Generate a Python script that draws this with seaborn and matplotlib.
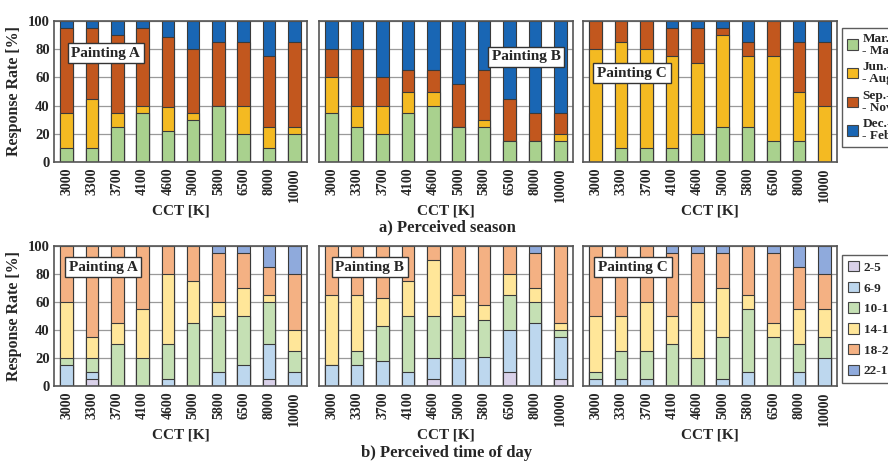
import numpy as np
import pandas as pd
import matplotlib
matplotlib.use("Agg")
import matplotlib.pyplot as plt
import seaborn as sns
from matplotlib.patches import Patch

cct = ["3000", "3300", "3700", "4100", "4600", "5000", "5800", "6500", "8000", "10000"]
paintings = ["Painting A", "Painting B", "Painting C"]

# perceived season, % per CCT (bottom -> top)
season_labels = ["Mar.-\n- May", "Jun.-\n- Aug.", "Sep.-\n- Nov.", "Dec.-\n- Feb."]
season_colors = ["#A9D18E", "#F4BA22", "#C2571E", "#1966B4"]
season_a = {
    "Mar.-May": [10, 10, 25, 35, 22, 30, 40, 20, 10, 20],
    "Jun.-Aug.": [25, 35, 10, 5, 17, 5, 0, 20, 15, 5],
    "Sep.-Nov.": [60, 50, 55, 55, 50, 45, 45, 45, 50, 60],
    "Dec.-Feb.": [5, 5, 10, 5, 11, 20, 15, 15, 25, 15],
}
season_b = {
    "Mar.-May": [35, 25, 20, 35, 40, 25, 25, 15, 15, 15],
    "Jun.-Aug.": [25, 15, 20, 15, 10, 0, 5, 0, 0, 5],
    "Sep.-Nov.": [20, 40, 20, 15, 15, 30, 35, 30, 20, 15],
    "Dec.-Feb.": [20, 20, 40, 35, 35, 45, 35, 55, 65, 65],
}
season_c = {
    "Mar.-May": [0, 10, 10, 10, 20, 25, 25, 15, 15, 0],
    "Jun.-Aug.": [80, 75, 70, 65, 50, 65, 50, 60, 35, 40],
    "Sep.-Nov.": [20, 15, 20, 20, 25, 5, 10, 25, 35, 45],
    "Dec.-Feb.": [0, 0, 0, 5, 5, 5, 15, 0, 15, 15],
}

# perceived time of day, % per CCT (bottom -> top)
time_labels = ["2-5", "6-9", "10-13", "14-17", "18-21", "22-1"]
time_colors = ["#D9D1E9", "#BDD7EE", "#C5E0B4", "#FFE699", "#F4B183", "#8FAADC"]
time_a = {
    "2-5": [0, 5, 0, 0, 0, 0, 0, 0, 5, 0],
    "6-9": [15, 5, 0, 0, 5, 0, 10, 15, 25, 10],
    "10-13": [5, 10, 30, 20, 25, 45, 40, 35, 30, 15],
    "14-17": [40, 15, 15, 35, 50, 30, 10, 20, 5, 15],
    "18-21": [40, 65, 55, 45, 20, 25, 35, 25, 20, 40],
    "22-1": [0, 0, 0, 0, 0, 0, 5, 5, 15, 20],
}
time_b = {
    "2-5": [0, 0, 0, 0, 5, 0, 0, 10, 0, 5],
    "6-9": [15, 15, 18, 10, 15, 20, 21, 30, 45, 30],
    "10-13": [0, 10, 25, 40, 30, 30, 26, 25, 15, 5],
    "14-17": [50, 40, 20, 25, 40, 15, 11, 15, 10, 5],
    "18-21": [35, 35, 37, 25, 10, 35, 42, 20, 25, 55],
    "22-1": [0, 0, 0, 0, 0, 0, 0, 0, 5, 0],
}
time_c = {
    "2-5": [0, 0, 0, 0, 0, 0, 0, 0, 0, 0],
    "6-9": [5, 5, 5, 0, 0, 5, 10, 0, 10, 20],
    "10-13": [5, 20, 20, 30, 20, 30, 45, 35, 20, 15],
    "14-17": [40, 25, 35, 20, 40, 35, 10, 10, 25, 20],
    "18-21": [50, 50, 40, 45, 35, 25, 35, 50, 30, 25],
    "22-1": [0, 0, 0, 5, 5, 5, 0, 5, 15, 20],
}

sns.set_theme(style="white")
plt.rcParams["font.family"] = ["Liberation Serif", "DejaVu Serif"]
plt.rcParams["font.weight"] = "bold"
plt.rcParams["axes.labelweight"] = "bold"

W, H = 888, 462
fig = plt.figure(figsize=(W / 100, H / 100), dpi=100)


def stacked(ax, data, colors):
    df = pd.DataFrame(data, index=cct)
    cum = df.cumsum(axis=1)
    # draw from the top category down so that lower layers cover the upper ones
    for i in range(len(df.columns) - 1, -1, -1):
        col = df.columns[i]
        sns.barplot(x=cct, y=cum[col].values, color=colors[i], width=0.5,
                    edgecolor="#3a3a3a", linewidth=0.8, ax=ax, zorder=2,
                    saturation=1)
    ax.set_ylim(0, 100)
    ax.set_xlim(-0.5, 9.5)
    ax.set_yticks([0, 20, 40, 60, 80, 100])
    ax.yaxis.grid(True, color="#9a9a9a", linewidth=0.9, zorder=0)
    ax.set_axisbelow(True)
    ax.tick_params(axis="x", rotation=90, labelsize=10, length=0, pad=4)
    ax.tick_params(axis="y", labelsize=10.5, length=0, pad=3)
    for s in ax.spines.values():
        s.set_color("#555555")
        s.set_linewidth(1.2)
    ax.set_xlabel("CCT [K]", fontsize=11, labelpad=2)
    ax.set_ylabel("")


lefts = [54, 319, 583]
widths = [253, 254, 254]
rows = [(21, 162), (246, 386)]
row_data = [[season_a, season_b, season_c], [time_a, time_b, time_c]]
row_colors = [season_colors, time_colors]
label_pos = [[(0.205, 0.773), (0.815, 0.745), (0.193, 0.63)],
             [(0.194, 0.85), (0.2, 0.85), (0.197, 0.85)]]

for r, (top, bot) in enumerate(rows):
    for c in range(3):
        ax = fig.add_axes([lefts[c] / W, 1 - bot / H, widths[c] / W, (bot - top) / H])
        stacked(ax, row_data[r][c], row_colors[r])
        if c == 0:
            ax.set_ylabel("Response Rate [%]", fontsize=11.5, labelpad=4)
        else:
            ax.set_yticklabels([])
        lx, ly = label_pos[r][c]
        ax.text(lx, ly, paintings[c], transform=ax.transAxes, ha="center", va="center",
                fontsize=11, fontweight="bold", zorder=5,
                bbox=dict(boxstyle="square,pad=0.25", facecolor="white",
                          edgecolor="#333333", linewidth=1.0))

fig.text(447 / W, 1 - 227 / H, "a) Perceived season", ha="center", va="center",
         fontsize=12, fontweight="bold")
fig.text(447 / W, 1 - 453 / H, "b) Perceived time of day", ha="center", va="center",
         fontsize=12, fontweight="bold")

season_handles = [Patch(facecolor=col, edgecolor="#444444", linewidth=0.8) for col in season_colors]
leg1 = fig.legend(season_handles, season_labels, loc="upper left",
                  bbox_to_anchor=(842 / W, 1 - 28 / H), frameon=True, fancybox=False,
                  edgecolor="#333333", fontsize=9.5, handlelength=0.85, handleheight=0.85,
                  labelspacing=0.35, borderpad=0.35, borderaxespad=0, handletextpad=0.35)
leg1.get_frame().set_linewidth(1.0)
for t in leg1.get_texts():
    t.set_linespacing(1.0)

time_handles = [Patch(facecolor=col, edgecolor="#444444", linewidth=0.8) for col in time_colors]
leg2 = fig.legend(time_handles, time_labels, loc="upper left",
                  bbox_to_anchor=(842 / W, 1 - 255 / H), frameon=True, fancybox=False,
                  edgecolor="#333333", fontsize=9.5, handlelength=0.85, handleheight=0.85,
                  labelspacing=0.6, borderpad=0.45, borderaxespad=0, handletextpad=0.35)
leg2.get_frame().set_linewidth(1.0)

fig.savefig("out.png", dpi=100)
